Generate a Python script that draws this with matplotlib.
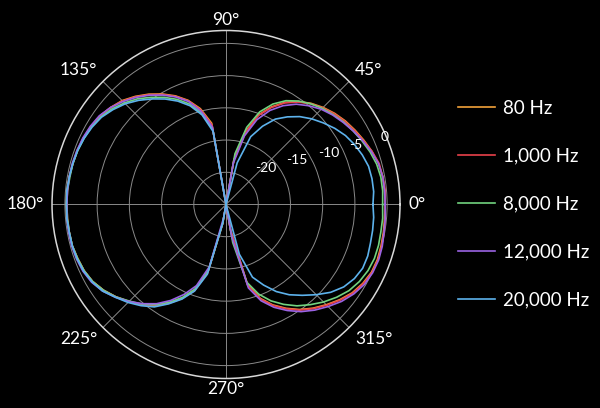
import numpy as np
import matplotlib
matplotlib.use("Agg")
import matplotlib.pyplot as plt

plt.rcParams['font.family'] = ['Lato', 'DejaVu Sans']

# angles in degrees, 5 degree steps
angles = list(range(0, 360, 5))

labels = ["80 Hz", "1,000 Hz", "8,000 Hz", "12,000 Hz", "20,000 Hz"]
colors = ["#f2a13a", "#e9414b", "#72d37f", "#9a63e3", "#5db2ec"]

# response in dB
hz80 = [-0.3, -0.3, -0.3, -0.5, -0.9, -1.4, -1.9, -2.4, -3.0, -3.7, -4.5, -5.5,
        -6.7, -8.3, -10.2, -13.3, -18.0, -25, -25, -25, -12.2, -9.6, -7.8, -6.4,
        -5.2, -4.1, -3.1, -2.2, -1.6, -1.1, -0.8, -0.6, -0.5, -0.4, -0.3, -0.2,
        -0.2, -0.2, -0.3, -0.3, -0.5, -0.7, -1.1, -1.8, -2.7, -3.7, -4.7, -5.8,
        -7.4, -9.0, -11.0, -14.3, -22.0, -25, -25, -25, -21.0, -12.2, -9.5, -7.8,
        -6.4, -5.1, -4.0, -3.0, -2.0, -1.1, -0.5, -0.1, 0.0, -0.1, -0.2, -0.3]
hz1000 = [-0.3, -0.2, -0.3, -0.4, -0.9, -1.5, -2.0, -2.5, -3.1, -3.8, -4.6, -5.6,
          -6.8, -8.4, -10.3, -13.5, -18.0, -25, -25, -25, -12.5, -9.8, -7.9, -6.5,
          -5.3, -4.2, -3.2, -2.3, -1.6, -1.1, -0.8, -0.6, -0.4, -0.4, -0.3, -0.3,
          -0.3, -0.3, -0.3, -0.3, -0.5, -0.7, -1.1, -1.8, -2.7, -3.7, -4.7, -5.8,
          -7.3, -8.9, -10.8, -14.0, -22.0, -25, -25, -25, -21.0, -12.0, -9.4, -7.7,
          -6.3, -5.0, -3.9, -2.9, -1.9, -1.0, -0.4, 0.0, 0.1, 0.0, -0.1, -0.2]
hz8000 = [-0.7, -0.6, -0.6, -0.8, -1.2, -1.7, -2.2, -2.7, -3.3, -3.9, -4.6, -5.4,
          -6.4, -7.8, -9.7, -12.6, -17.0, -25, -25, -25, -13.2, -10.3, -8.4, -7.0,
          -5.8, -4.7, -3.6, -2.7, -1.9, -1.3, -0.9, -0.7, -0.5, -0.4, -0.4, -0.3,
          -0.3, -0.3, -0.3, -0.3, -0.5, -0.7, -1.1, -1.8, -2.7, -3.8, -4.8, -6.0,
          -7.5, -9.1, -11.1, -14.5, -22.0, -25, -25, -25, -19.0, -12.5, -10.2, -8.5,
          -7.1, -5.8, -4.7, -3.6, -2.6, -1.7, -1.1, -0.7, -0.5, -0.5, -0.6, -0.6]
hz12000 = [-0.3, -0.3, -0.3, -0.5, -1.0, -1.6, -2.2, -2.8, -3.4, -4.1, -5.0, -6.0,
           -7.3, -8.9, -11.0, -14.0, -18.5, -25, -25, -25, -12.8, -10.0, -8.0, -6.6,
           -5.4, -4.3, -3.3, -2.4, -1.6, -1.0, -0.7, -0.5, -0.4, -0.3, -0.3, -0.3,
           -0.3, -0.2, -0.2, -0.2, -0.3, -0.5, -0.9, -1.6, -2.6, -3.7, -4.9, -6.2,
           -7.8, -9.6, -11.6, -15.0, -23.0, -25, -25, -25, -20.0, -11.6, -9.1, -7.4,
           -6.0, -4.7, -3.6, -2.6, -1.6, -0.8, -0.2, 0.1, 0.2, 0.1, -0.1, -0.2]
hz20000 = [-2.2, -2.0, -2.0, -2.1, -2.5, -3.0, -3.6, -4.4, -5.3, -6.2, -7.2, -8.4,
           -9.7, -11.6, -13.8, -18.3, -25, -25, -25, -25, -13.5, -10.6, -8.7, -7.3,
           -6.1, -5.0, -3.9, -2.9, -2.1, -1.4, -1.0, -0.7, -0.5, -0.4, -0.3, -0.2,
           -0.2, -0.2, -0.3, -0.3, -0.4, -0.6, -1.0, -1.6, -2.6, -3.5, -4.5, -5.6,
           -7.2, -8.8, -10.7, -13.8, -22.0, -25, -25, -25, -25, -17.0, -13.0, -11.2,
           -9.4, -7.9, -6.6, -5.2, -3.8, -2.7, -2.0, -1.6, -1.6, -1.8, -1.9, -2.0]

series = [hz80, hz1000, hz8000, hz12000, hz20000]

rings = [-20, -15, -10, -5, 0]
ring_labels = ["-20", "-15", "-10", "-5", "0"]
spokes = list(range(0, 360, 45))
spoke_labels = [f"{a}°" for a in spokes]
r_min, r_max = -25, 2

fig = plt.figure(figsize=(6, 4.08), dpi=100, facecolor="black")
ax = fig.add_axes([0.0867, 0.0723, 0.58, 0.853], projection="polar")
ax.set_facecolor("black")

theta = np.deg2rad(angles + [360])
for vals, lab, col in zip(series, labels, colors):
    r = np.clip(np.array(vals + [vals[0]]), r_min, None)
    ax.plot(theta, r, color=col, lw=1.2, label=lab)

ax.set_rlim(r_min, r_max)
ax.set_yticks(rings)
ax.set_yticklabels([])
ax.set_thetagrids(spokes, [])
ax.grid(color="#8a8a8a", lw=0.7)
ax.spines["polar"].set_color("#d8d8d8")
ax.spines["polar"].set_linewidth(1.1)

# angle labels anchored on the side facing the circle
align = {0: ("left", "center"), 45: ("left", "bottom"), 90: ("center", "bottom"),
         135: ("right", "bottom"), 180: ("right", "center"), 225: ("right", "top"),
         270: ("center", "top"), 315: ("left", "top")}
for a, t in zip(spokes, spoke_labels):
    ha, va = align[a]
    c, s = np.cos(np.deg2rad(a)), np.sin(np.deg2rad(a))
    ax.annotate(t, xy=(np.deg2rad(a), r_max), xytext=(6 * c, 1.8 * s if a % 90 == 0 else 3.5 * s),
                textcoords="offset points", ha=ha, va=va, color="white",
                fontsize=12.5, annotation_clip=False)

# radial labels sit beside the 15 degree line
for v, t in zip(rings, ring_labels):
    ax.annotate(t, xy=(np.deg2rad(14), v), xytext=(-1.5, 20.5),
                textcoords="offset points", ha="left", va="center",
                color="white", fontsize=10)

fig.legend(loc="center left", bbox_to_anchor=(0.763, 0.5), frameon=False,
           fontsize=13.5, labelcolor="white", handlelength=2.0,
           handletextpad=0.4, labelspacing=1.65, borderpad=0, borderaxespad=0)

fig.savefig("out.png", dpi=100, facecolor="black")
